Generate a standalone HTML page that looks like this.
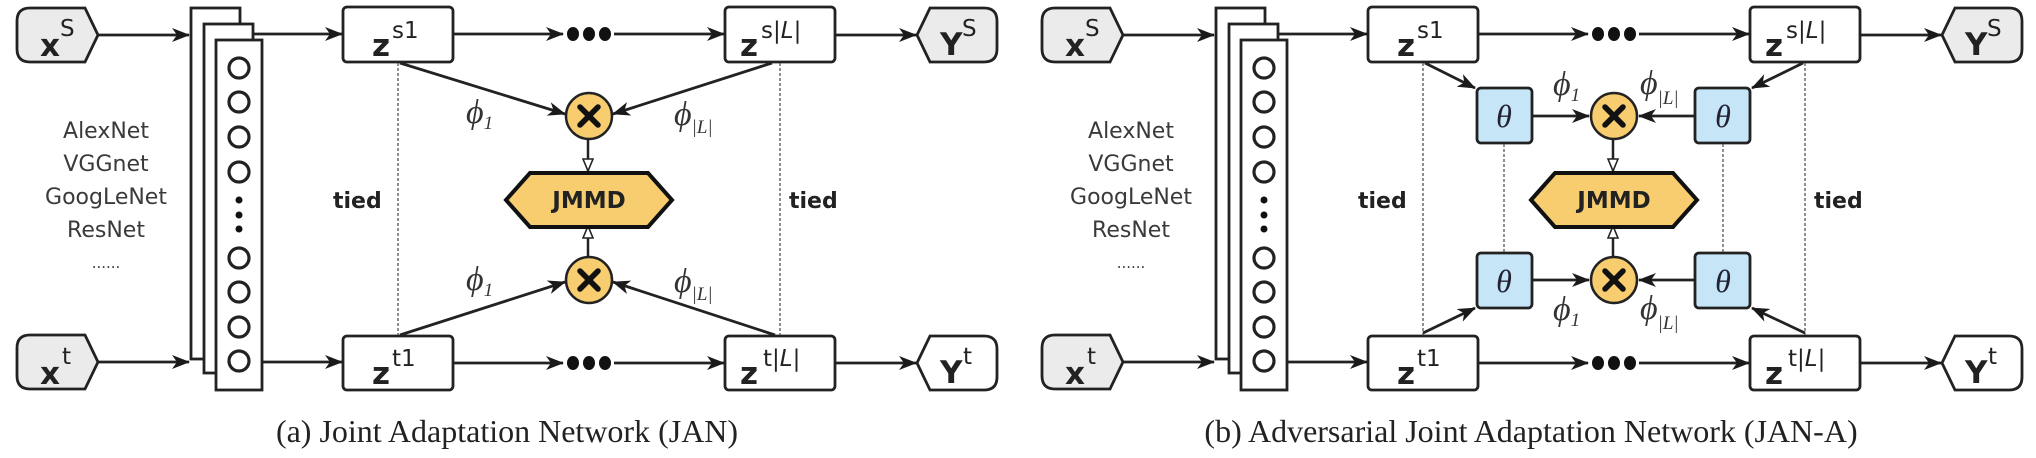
<!DOCTYPE html>
<html><head><meta charset="utf-8"><style>
html,body{margin:0;padding:0;background:#fff;}
svg{display:block;}
.sans{font-family:"DejaVu Sans","Liberation Sans",sans-serif;}
.zb{font-family:"DejaVu Sans","Liberation Sans",sans-serif;font-weight:bold;font-size:31px;fill:#222;}
.sup{font-family:"DejaVu Sans","Liberation Sans",sans-serif;font-size:23px;fill:#222;}
.net{font-family:"DejaVu Sans","Liberation Sans",sans-serif;font-size:22px;fill:#3a3a3a;}
.tied{font-family:"DejaVu Sans","Liberation Sans",sans-serif;font-weight:bold;font-size:22px;fill:#222;}
.phi{font-family:"Liberation Serif",serif;font-style:italic;font-size:34px;fill:#333;}
.phs{font-family:"Liberation Serif",serif;font-style:italic;font-size:19px;fill:#333;}
.cap{font-family:"Liberation Serif",serif;font-size:32px;fill:#222;}
.th{font-family:"Liberation Serif",serif;font-style:italic;font-size:32px;fill:#223;}
</style></head><body>
<svg width="2036" height="458" viewBox="0 0 2036 458" xmlns="http://www.w3.org/2000/svg">
<defs>
<marker id="a" markerWidth="18" markerHeight="14" refX="17" refY="7" orient="auto" markerUnits="userSpaceOnUse">
<path d="M0,0 L18,7 L0,14 L5,7 Z" fill="#1a1a1a"/></marker>
<marker id="h" markerWidth="12" markerHeight="14" refX="6" refY="13" orient="0" markerUnits="userSpaceOnUse">
<path d="M1,1 L11,1 L6,13 Z" fill="#fff" stroke="#222" stroke-width="1.6"/></marker>
<marker id="hu" markerWidth="12" markerHeight="14" refX="6" refY="1" orient="0" markerUnits="userSpaceOnUse">
<path d="M1,13 L11,13 L6,1 Z" fill="#fff" stroke="#222" stroke-width="1.6"/></marker>
<g id="common">
 <g stroke="#222" stroke-width="2.8">
  <path d="M30,8 H85 L98,35 L85,62 H30 Q17,62 17,49 V21 Q17,8 30,8 Z" fill="#ebebeb"/>
  <path d="M30,335 H85 L98,362 L85,389 H30 Q17,389 17,376 V348 Q17,335 30,335 Z" fill="#ebebeb"/>
  <path d="M930,8 H984 Q997,8 997,21 V49 Q997,62 984,62 H930 L917,35 Z" fill="#ebebeb"/>
  <path d="M930,336 H984 Q997,336 997,349 V377 Q997,390 984,390 H930 L917,363 Z" fill="#fff"/>
  <line x1="98" y1="35" x2="189" y2="35" marker-end="url(#a)"/>
  <line x1="98" y1="362" x2="189" y2="362" marker-end="url(#a)"/>
  <rect x="191" y="8" width="49" height="351" fill="#fff"/>
  <rect x="204" y="24" width="49" height="349" fill="#fff"/>
  <rect x="216" y="40" width="46" height="350" fill="#fff"/>
  <line x1="253" y1="34" x2="342" y2="34" marker-end="url(#a)"/>
  <line x1="262" y1="362" x2="342" y2="362" marker-end="url(#a)"/>
  <g fill="none" stroke-width="3.2">
   <circle cx="239" cy="68" r="10"/><circle cx="239" cy="102" r="10"/><circle cx="239" cy="137" r="10"/><circle cx="239" cy="172" r="10"/>
   <circle cx="239" cy="258" r="10"/><circle cx="239" cy="292" r="10"/><circle cx="239" cy="327" r="10"/><circle cx="239" cy="361" r="10"/>
  </g>
  <rect x="343" y="7" width="110" height="55" rx="4" fill="#fff"/>
  <rect x="343" y="336" width="110" height="54" rx="4" fill="#fff"/>
  <rect x="725" y="7" width="110" height="55" rx="4" fill="#fff"/>
  <rect x="725" y="336" width="110" height="54" rx="4" fill="#fff"/>
  <line x1="453" y1="34" x2="563" y2="34" marker-end="url(#a)"/>
  <line x1="614" y1="34" x2="724" y2="34" marker-end="url(#a)"/>
  <line x1="453" y1="363" x2="563" y2="363" marker-end="url(#a)"/>
  <line x1="614" y1="363" x2="724" y2="363" marker-end="url(#a)"/>
  <line x1="835" y1="35" x2="916" y2="35" marker-end="url(#a)"/>
  <line x1="835" y1="363" x2="916" y2="363" marker-end="url(#a)"/>
 </g>
 <g fill="#111">
  <circle cx="239" cy="200" r="3.5"/><circle cx="239" cy="215" r="3.5"/><circle cx="239" cy="229" r="3.5"/>
  <ellipse cx="573" cy="34" rx="6" ry="7"/><ellipse cx="589" cy="34" rx="6" ry="7"/><ellipse cx="605" cy="34" rx="6" ry="7"/>
  <ellipse cx="573" cy="363" rx="6" ry="7"/><ellipse cx="589" cy="363" rx="6" ry="7"/><ellipse cx="605" cy="363" rx="6" ry="7"/>
 </g>
 <g stroke="#555" stroke-width="1.3" stroke-dasharray="3,2">
  <line x1="398" y1="63" x2="398" y2="335"/><line x1="780" y1="63" x2="780" y2="335"/>
 </g>
 <text class="zb" x="40" y="56">x</text><text class="sup" x="60" y="36">S</text>
 <text class="zb" x="40" y="384">x</text><text class="sup" x="62" y="364">t</text>
 <text class="zb" x="940" y="55">Y</text><text class="sup" x="962" y="36">S</text>
 <text class="zb" x="940" y="383">Y</text><text class="sup" x="963" y="364">t</text>
 <text class="zb" x="372" y="56">z</text><text class="sup" x="392" y="38">s1</text>
 <text class="zb" x="372" y="384">z</text><text class="sup" x="392" y="366">t1</text>
 <text class="zb" x="740" y="56">z</text><text class="sup" x="761" y="38">s|<tspan font-style="italic">L</tspan>|</text>
 <text class="zb" x="740" y="384">z</text><text class="sup" x="763" y="366">t|<tspan font-style="italic">L</tspan>|</text>
 <g class="net" text-anchor="middle">
  <text x="106" y="138">AlexNet</text><text x="106" y="171">VGGnet</text>
  <text x="106" y="204">GoogLeNet</text><text x="106" y="237">ResNet</text>
  <text x="106" y="268" font-size="15">......</text>
 </g>
 <text class="tied" x="333" y="208">tied</text>
 <text class="tied" x="789" y="208">tied</text>
 <g stroke="#222" stroke-width="2.5">
  <line x1="588" y1="139" x2="588" y2="171" marker-end="url(#h)"/>
  <line x1="588" y1="257" x2="588" y2="226" marker-end="url(#hu)"/>
  <circle cx="589" cy="116" r="23" fill="#f7cd6f"/>
  <circle cx="589" cy="280" r="23" fill="#f7cd6f"/>
 </g>
 <g stroke="#111" stroke-width="5.5" stroke-linecap="round">
  <line x1="580" y1="107" x2="598" y2="125"/><line x1="598" y1="107" x2="580" y2="125"/>
  <line x1="580" y1="271" x2="598" y2="289"/><line x1="598" y1="271" x2="580" y2="289"/>
 </g>
 <path d="M506,200 L530,173 L648,173 L672,200 L648,227 L530,227 Z" fill="#f7cd6f" stroke="#111" stroke-width="4"/>
 <text class="sans" x="589" y="208" text-anchor="middle" font-weight="bold" font-size="23" fill="#222">JMMD</text>
</g>
</defs>

<use href="#common"/>
<g stroke="#222" stroke-width="2.8">
 <line x1="400" y1="63" x2="565" y2="114" marker-end="url(#a)"/>
 <line x1="772" y1="63" x2="613" y2="114" marker-end="url(#a)"/>
 <line x1="400" y1="335" x2="565" y2="282" marker-end="url(#a)"/>
 <line x1="775" y1="335" x2="613" y2="282" marker-end="url(#a)"/>
</g>
<text class="phi" x="466" y="123">ϕ<tspan class="phs" dy="6">1</tspan></text>
<text class="phi" x="674" y="125">ϕ<tspan class="phs" dy="8">|L|</tspan></text>
<text class="phi" x="466" y="290">ϕ<tspan class="phs" dy="6">1</tspan></text>
<text class="phi" x="674" y="292">ϕ<tspan class="phs" dy="8">|L|</tspan></text>
<text class="cap" x="507" y="442" text-anchor="middle">(a) Joint Adaptation Network (JAN)</text>

<g transform="translate(1025,0)">
 <use href="#common"/>
 <g stroke="#222" stroke-width="2.8">
  <line x1="400" y1="63" x2="450" y2="88" marker-end="url(#a)"/>
  <line x1="778" y1="63" x2="727" y2="88" marker-end="url(#a)"/>
  <line x1="398" y1="333" x2="450" y2="308" marker-end="url(#a)"/>
  <line x1="780" y1="333" x2="727" y2="308" marker-end="url(#a)"/>
  <line x1="507" y1="116" x2="564" y2="116" marker-end="url(#a)"/>
  <line x1="670" y1="116" x2="614" y2="116" marker-end="url(#a)"/>
  <line x1="507" y1="280" x2="564" y2="280" marker-end="url(#a)"/>
  <line x1="670" y1="280" x2="614" y2="280" marker-end="url(#a)"/>
  <g fill="#c6e5f7">
   <rect x="452" y="88" width="55" height="55" rx="4"/>
   <rect x="670" y="88" width="55" height="55" rx="4"/>
   <rect x="452" y="253" width="55" height="55" rx="4"/>
   <rect x="670" y="253" width="55" height="55" rx="4"/>
  </g>
 </g>
 <g stroke="#555" stroke-width="1.3" stroke-dasharray="3,2">
  <line x1="479" y1="144" x2="479" y2="252"/><line x1="698" y1="144" x2="698" y2="252"/>
 </g>
 <g class="th" text-anchor="middle">
  <text x="479" y="127">θ</text><text x="698" y="127">θ</text>
  <text x="479" y="292">θ</text><text x="698" y="292">θ</text>
 </g>
 <text class="phi" x="528" y="95">ϕ<tspan class="phs" dy="6">1</tspan></text>
 <text class="phi" x="615" y="94">ϕ<tspan class="phs" dy="10">|L|</tspan></text>
 <text class="phi" x="528" y="320">ϕ<tspan class="phs" dy="6">1</tspan></text>
 <text class="phi" x="615" y="319">ϕ<tspan class="phs" dy="10">|L|</tspan></text>
 <text class="cap" x="506" y="442" text-anchor="middle">(b) Adversarial Joint Adaptation Network (JAN-A)</text>
</g>
</svg>
</body></html>
